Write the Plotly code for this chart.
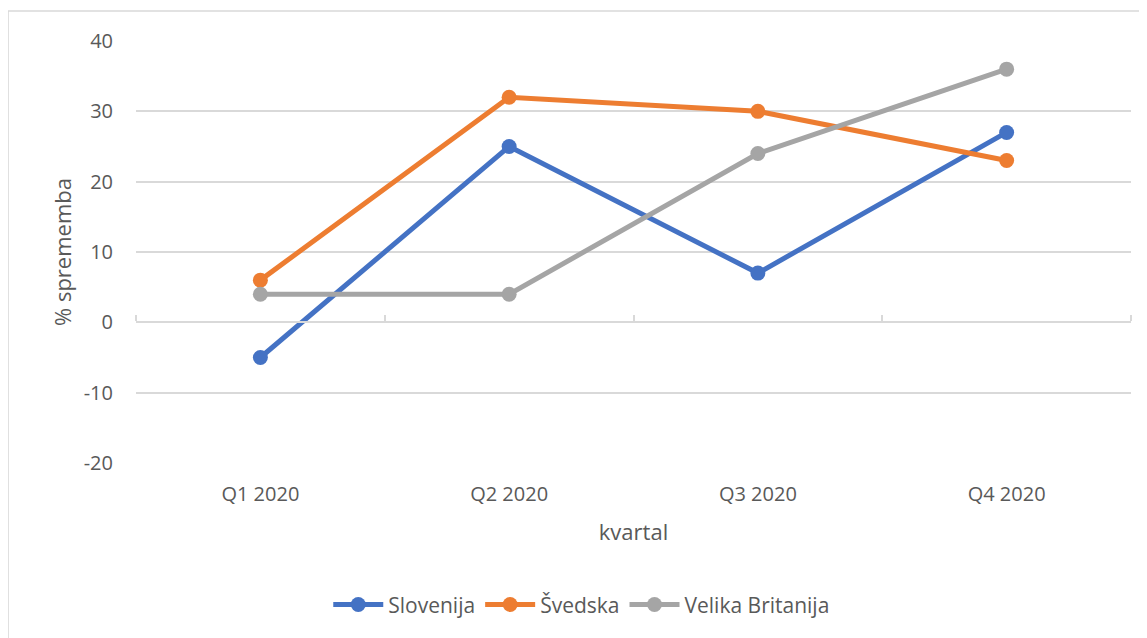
import plotly.graph_objects as go

categories = ["Q1 2020", "Q2 2020", "Q3 2020", "Q4 2020"]
slovenija = [-5, 25, 7, 27]
svedska = [6, 32, 30, 23]
velika_britanija = [4, 4, 24, 36]
series_names = ["Slovenija", "Švedska", "Velika Britanija"]
colors = ["#4472C4", "#ED7D31", "#A5A5A5"]
y_tickvals = [-20, -10, 0, 10, 20, 30, 40]
y_ticktext = ["-20", "-10", "0", "10", "20", "30", "40"]

FONT = "Open Sans"
TXT = "#595959"
fig = go.Figure()
for name, vals, col in zip(series_names, [slovenija, svedska, velika_britanija], colors):
    fig.add_trace(go.Scatter(
        x=categories, y=vals, name=name, mode="lines+markers",
        line=dict(color=col, width=5),
        marker=dict(color=col, size=15),
    ))

# invisible trace for the zero-crossing axis
fig.add_trace(go.Scatter(x=categories, y=[None]*4, xaxis="x2", showlegend=False,
                         hoverinfo="skip", mode="lines"))

fig.update_layout(
    width=1139, height=630,
    margin=dict(l=128, r=16, t=33, b=175),
    paper_bgcolor="white", plot_bgcolor="white",
    font=dict(family=FONT, color=TXT),
    showlegend=True,
    legend=dict(orientation="h", x=0.448, xanchor="center", y=-0.336, yanchor="middle",
                font=dict(size=21, color=TXT), itemwidth=50,
                traceorder="normal"),
    xaxis=dict(type="category", categoryorder="array", categoryarray=categories,
               range=[-0.5, 3.5], showgrid=False, showline=False, zeroline=False,
               ticks="", tickfont=dict(size=20, color=TXT), automargin=False,
               ticklabelstandoff=17,
               title=dict(text="kvartal", font=dict(size=22, color=TXT), standoff=18)),
    xaxis2=dict(type="category", categoryorder="array", categoryarray=categories,
                overlaying="x", side="top", anchor="free", position=1/3,
                range=[-0.5, 3.5], showline=True, linecolor="#D9D9D9", linewidth=2,
                ticks="outside", tickson="boundaries", ticklen=6, tickcolor="#D9D9D9",
                tickwidth=2, showticklabels=False, showgrid=False, zeroline=False,
                automargin=False),
    yaxis=dict(range=[-20, 40], tickvals=y_tickvals, ticktext=y_ticktext,
               showgrid=True, gridcolor="#D9D9D9",
               gridwidth=1.5, zeroline=False, showline=False, ticks="", automargin=False,
               tickfont=dict(size=20, color=TXT), ticklabelstandoff=22,
               title=dict(text="% sprememba", font=dict(size=22, color=TXT), standoff=5)),
    shapes=[dict(type="rect", xref="paper", yref="paper", x0=-0.1286, x1=1.05,
                 y0=-0.6, y1=1.0711, line=dict(color="#D9D9D9", width=1.5), layer="below")],
)

fig.write_html("out.html")
